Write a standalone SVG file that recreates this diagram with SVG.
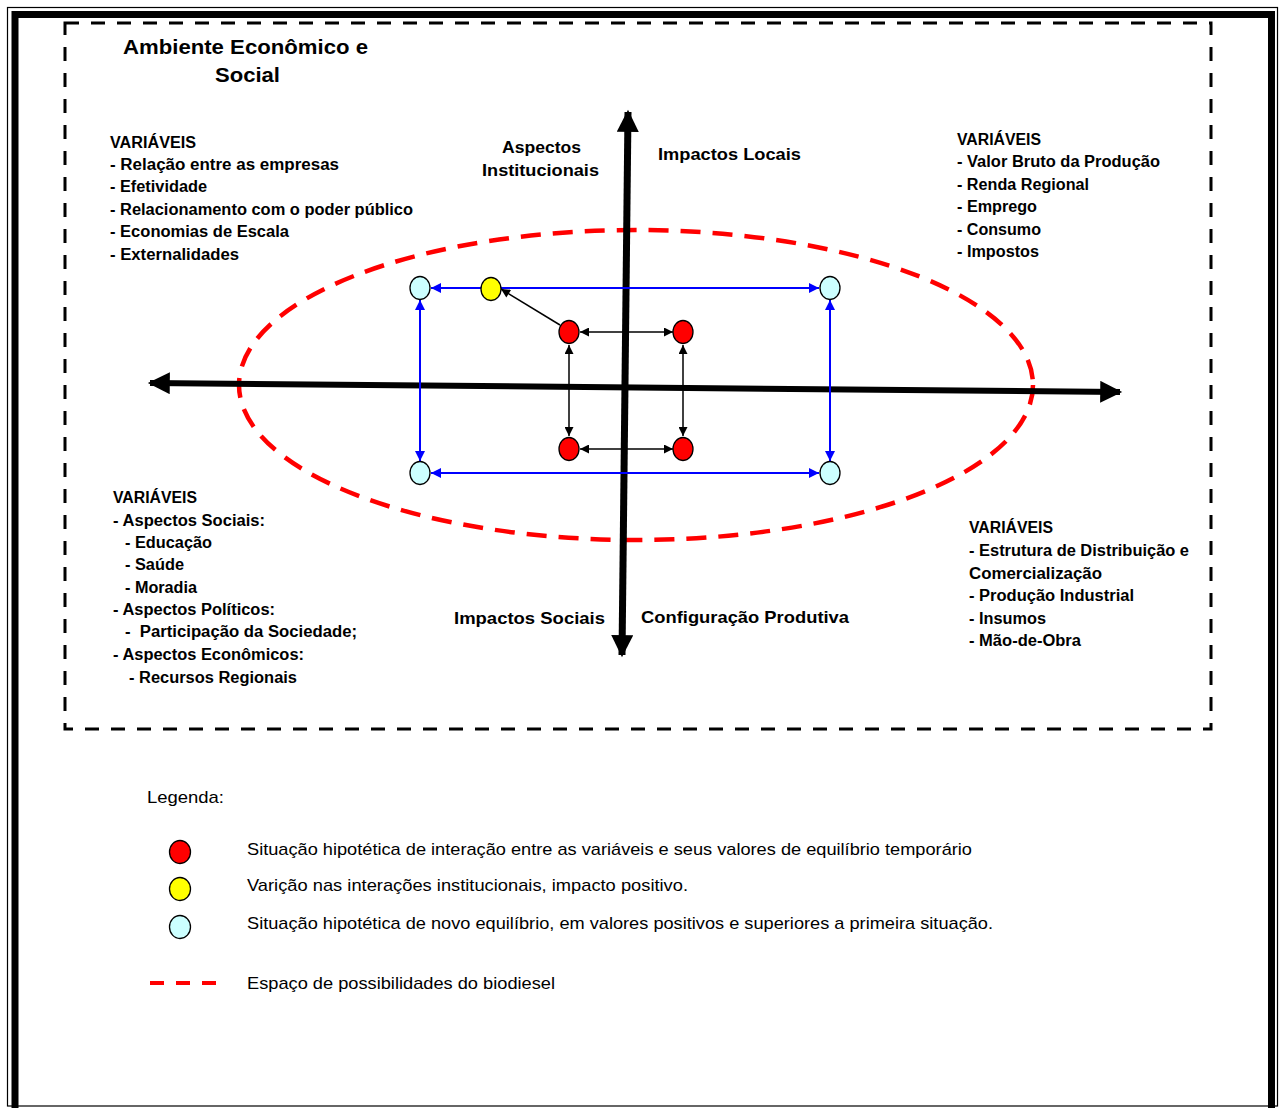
<svg xmlns="http://www.w3.org/2000/svg" width="1282" height="1108" viewBox="0 0 1282 1108">
<style>
text{font-family:"Liberation Sans",Arial,sans-serif;fill:#000}
.b{font-weight:bold;font-size:16px}
.t{font-weight:bold;font-size:21px}
.ax{font-weight:bold;font-size:17px}
.lg{font-size:17px}
.red{fill:#ff0000;stroke:#000;stroke-width:1.3}
.yel{fill:#ffff00;stroke:#000;stroke-width:1.3}
.cy{fill:#ccffff;stroke:#000;stroke-width:1.3}
.blue{stroke:#0000ff;stroke-width:2;fill:none}
.blk{stroke:#000;stroke-width:1.5;fill:none}
</style>
<defs>
<marker id="ab" viewBox="0 0 10 10" refX="10" refY="5" markerWidth="12" markerHeight="10" markerUnits="userSpaceOnUse" orient="auto-start-reverse"><path d="M0,0 L10,5 L0,10 z" fill="#0000ff"/></marker>
<marker id="ak" viewBox="0 0 10 10" refX="10" refY="5" markerWidth="10" markerHeight="9" markerUnits="userSpaceOnUse" orient="auto-start-reverse"><path d="M0,0 L10,5 L0,10 z" fill="#000"/></marker>
<marker id="ax" viewBox="0 0 10 10" refX="9" refY="5" markerWidth="23" markerHeight="22" markerUnits="userSpaceOnUse" orient="auto-start-reverse"><path d="M0,0 L10,5 L0,10 z" fill="#000"/></marker>
</defs>
<rect width="1282" height="1108" fill="#fff"/>
<g id="frame">
<rect x="7.5" y="7.5" width="1270" height="1098.5" fill="none" stroke="#000" stroke-width="1.2"/>
<path d="M15,1108 V14.5 H1271.5 V1108" fill="none" stroke="#000" stroke-width="7"/>
<rect x="65" y="23" width="1146" height="706" fill="none" stroke="#000" stroke-width="3" stroke-dasharray="14 12"/>
</g>
<g id="title">
<text class="t" x="123" y="54" textLength="245" lengthAdjust="spacingAndGlyphs">Ambiente Econômico e</text>
<text class="t" x="215" y="82" textLength="65" lengthAdjust="spacingAndGlyphs">Social</text>
</g>
<g id="ellipse">
<ellipse cx="636" cy="385" rx="397" ry="155" fill="none" stroke="#ff0000" stroke-width="4.5" stroke-dasharray="20 12"/>
</g>
<g id="axes">
<line x1="150" y1="383" x2="1120" y2="392" stroke="#000" stroke-width="6" marker-start="url(#ax)" marker-end="url(#ax)"/>
<line x1="628" y1="112" x2="622" y2="655" stroke="#000" stroke-width="7" marker-start="url(#ax)" marker-end="url(#ax)"/>
</g>
<g id="connectors">
<line class="blue" x1="431" y1="288" x2="819" y2="288" marker-start="url(#ab)" marker-end="url(#ab)"/>
<line class="blue" x1="431" y1="473" x2="819" y2="473" marker-start="url(#ab)" marker-end="url(#ab)"/>
<line class="blue" x1="420" y1="300" x2="420" y2="461" marker-start="url(#ab)" marker-end="url(#ab)"/>
<line class="blue" x1="830" y1="300" x2="830" y2="461" marker-start="url(#ab)" marker-end="url(#ab)"/>
<line class="blk" x1="580" y1="332" x2="673" y2="332" marker-start="url(#ak)" marker-end="url(#ak)"/>
<line class="blk" x1="580" y1="449" x2="673" y2="449" marker-start="url(#ak)" marker-end="url(#ak)"/>
<line class="blk" x1="569" y1="345" x2="569" y2="436" marker-start="url(#ak)" marker-end="url(#ak)"/>
<line class="blk" x1="683" y1="345" x2="683" y2="436" marker-start="url(#ak)" marker-end="url(#ak)"/>
<line class="blk" x1="560" y1="325" x2="501" y2="289" marker-end="url(#ak)"/>
</g>
<g id="nodes">
<ellipse id="c1" class="cy" cx="420" cy="288" rx="10" ry="11.5"/>
<ellipse id="c2" class="cy" cx="830" cy="288" rx="10" ry="11.5"/>
<ellipse id="c3" class="cy" cx="420" cy="473" rx="10" ry="11.5"/>
<ellipse id="c4" class="cy" cx="830" cy="473" rx="10" ry="11.5"/>
<ellipse id="y1" class="yel" cx="491" cy="289" rx="10" ry="11.5"/>
<ellipse id="r1" class="red" cx="569" cy="332" rx="10" ry="11.5"/>
<ellipse id="r2" class="red" cx="683" cy="332" rx="10" ry="11.5"/>
<ellipse id="r3" class="red" cx="569" cy="449" rx="10" ry="11.5"/>
<ellipse id="r4" class="red" cx="683" cy="449" rx="10" ry="11.5"/>
</g>
<g id="axis-labels">
<text class="ax" x="502" y="153" textLength="79" lengthAdjust="spacingAndGlyphs">Aspectos</text>
<text class="ax" x="482" y="176" textLength="117" lengthAdjust="spacingAndGlyphs">Institucionais</text>
<text class="ax" x="658" y="160" textLength="143" lengthAdjust="spacingAndGlyphs">Impactos Locais</text>
<text class="ax" x="454" y="624" textLength="151" lengthAdjust="spacingAndGlyphs">Impactos Sociais</text>
<text class="ax" x="641" y="623" textLength="208" lengthAdjust="spacingAndGlyphs">Configuração Produtiva</text>
</g>
<g id="vars-tl">
<text class="b" x="110" y="148" textLength="86" lengthAdjust="spacingAndGlyphs">VARIÁVEIS</text>
<text class="b" x="110" y="170" textLength="229" lengthAdjust="spacingAndGlyphs">- Relação entre as empresas</text>
<text class="b" x="110" y="192" textLength="97" lengthAdjust="spacingAndGlyphs">- Efetividade</text>
<text class="b" x="110" y="215" textLength="303" lengthAdjust="spacingAndGlyphs">- Relacionamento com o poder público</text>
<text class="b" x="110" y="237" textLength="179" lengthAdjust="spacingAndGlyphs">- Economias de Escala</text>
<text class="b" x="110" y="260" textLength="129" lengthAdjust="spacingAndGlyphs">- Externalidades</text>
</g>
<g id="vars-tr">
<text class="b" x="957" y="145" textLength="84" lengthAdjust="spacingAndGlyphs">VARIÁVEIS</text>
<text class="b" x="957" y="167" textLength="203" lengthAdjust="spacingAndGlyphs">- Valor Bruto da Produção</text>
<text class="b" x="957" y="190" textLength="132" lengthAdjust="spacingAndGlyphs">- Renda Regional</text>
<text class="b" x="957" y="212" textLength="80" lengthAdjust="spacingAndGlyphs">- Emprego</text>
<text class="b" x="957" y="235" textLength="84" lengthAdjust="spacingAndGlyphs">- Consumo</text>
<text class="b" x="957" y="257" textLength="82" lengthAdjust="spacingAndGlyphs">- Impostos</text>
</g>
<g id="vars-bl">
<text class="b" x="113" y="503" textLength="84" lengthAdjust="spacingAndGlyphs">VARIÁVEIS</text>
<text class="b" x="113" y="526" textLength="152" lengthAdjust="spacingAndGlyphs">- Aspectos Sociais:</text>
<text class="b" x="125" y="548" textLength="87" lengthAdjust="spacingAndGlyphs">- Educação</text>
<text class="b" x="125" y="570" textLength="59" lengthAdjust="spacingAndGlyphs">- Saúde</text>
<text class="b" x="125" y="593" textLength="72" lengthAdjust="spacingAndGlyphs">- Moradia</text>
<text class="b" x="113" y="615" textLength="162" lengthAdjust="spacingAndGlyphs">- Aspectos Políticos:</text>
<text class="b" x="125" y="637" textLength="232" lengthAdjust="spacingAndGlyphs" xml:space="preserve">-  Participação da Sociedade;</text>
<text class="b" x="113" y="660" textLength="191" lengthAdjust="spacingAndGlyphs">- Aspectos Econômicos:</text>
<text class="b" x="129" y="683" textLength="168" lengthAdjust="spacingAndGlyphs">- Recursos Regionais</text>
</g>
<g id="vars-br">
<text class="b" x="969" y="533" textLength="84" lengthAdjust="spacingAndGlyphs">VARIÁVEIS</text>
<text class="b" x="969" y="556" textLength="220" lengthAdjust="spacingAndGlyphs">- Estrutura de Distribuição e</text>
<text class="b" x="969" y="579" textLength="133" lengthAdjust="spacingAndGlyphs">Comercialização</text>
<text class="b" x="969" y="601" textLength="165" lengthAdjust="spacingAndGlyphs">- Produção Industrial</text>
<text class="b" x="969" y="624" textLength="77" lengthAdjust="spacingAndGlyphs">- Insumos</text>
<text class="b" x="969" y="646" textLength="112" lengthAdjust="spacingAndGlyphs">- Mão-de-Obra</text>
</g>
<g id="legend">
<text class="lg" x="147" y="803" textLength="77" lengthAdjust="spacingAndGlyphs">Legenda:</text>
<ellipse class="red" cx="180" cy="852" rx="10.5" ry="11.5"/>
<ellipse class="yel" cx="180" cy="889" rx="10.5" ry="11.5"/>
<ellipse class="cy" cx="180" cy="927" rx="10.5" ry="11.5"/>
<line x1="150" y1="983" x2="216" y2="983" stroke="#ff0000" stroke-width="4" stroke-dasharray="14 12"/>
<text class="lg" x="247" y="855" textLength="725" lengthAdjust="spacingAndGlyphs">Situação hipotética de interação entre as variáveis e seus valores de equilíbrio temporário</text>
<text class="lg" x="247" y="891" textLength="441" lengthAdjust="spacingAndGlyphs">Varição nas interações institucionais, impacto positivo.</text>
<text class="lg" x="247" y="929" textLength="746" lengthAdjust="spacingAndGlyphs">Situação hipotética de novo equilíbrio, em valores positivos e superiores a primeira situação.</text>
<text class="lg" x="247" y="989" textLength="308" lengthAdjust="spacingAndGlyphs">Espaço de possibilidades do biodiesel</text>
</g>
</svg>
